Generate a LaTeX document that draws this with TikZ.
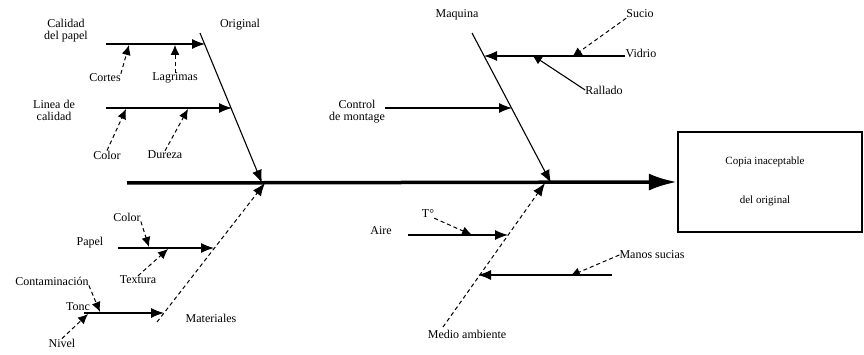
\documentclass[tikz,border=0pt]{standalone}
\usepackage{fontspec}
\setmainfont{Liberation Serif}
\usetikzlibrary{arrows.meta}
\begin{document}
\begin{tikzpicture}[x=1pt,y=-1pt,
  lbl/.style={font=\fontsize{12}{12}\selectfont, inner sep=0pt, align=center},
  efftext/.style={font=\fontsize{11}{11}\selectfont, inner sep=0pt},
  bone/.style={line width=1.1pt},
  dbone/.style={line width=1pt, dash pattern=on 4pt off 3pt},
  mainarr/.style={-{Latex[length=13pt,width=10pt]}},
  subarr/.style={-{Latex[length=10pt,width=9pt]}},
  spine/.style={line width=3.5pt},
  effect/.style={draw, line width=2.2pt, minimum width=184pt, minimum height=100pt, inner sep=0pt}]
\useasboundingbox (0,0) rectangle (864,355);

% effect box and spine
\node[effect] (box) at (770,182) {};
\node[efftext] (eff1) at (765,162) {Copia inaceptable};
\node[efftext] (eff2) at (765,201) {del original};
\coordinate (s0) at (127,183);
\draw[spine,-{Latex[length=28pt,width=17pt]}] (s0) -- (box.west);

\coordinate (j1t) at (262,183);
\coordinate (j1b) at (265,183);
\coordinate (j2t) at (551,183);
\coordinate (j2b) at (545,183);

% ---- Original (top left)
\node[lbl] (orig) at (240,25) {Original};
\coordinate (o0) at (200,33);
\draw[bone,mainarr] (o0) -- (j1t);

\node[lbl] (calidad) at (66,31) {Calidad\\del papel};
\coordinate (cp0) at (106,44);
\coordinate (cp1) at (205,44);
\draw[bone,mainarr] (cp0) -- (cp1);
\node[lbl] (cortes) at (105,78) {Cortes};
\coordinate (cortesT) at (129,45);
\draw[dbone,subarr] (cortes.north east) -- (cortesT);
\node[lbl] (lagr) at (175,78) {Lagrimas};
\coordinate (lagrT) at (175,45);
\draw[dbone,subarr] (lagr.north) -- (lagrT);

\node[lbl] (linea) at (54,110) {Linea de\\calidad};
\coordinate (lc0) at (106,108);
\coordinate (lc1) at (232,108);
\draw[bone,mainarr] (lc0) -- (lc1);
\node[lbl] (color1) at (107,155) {Color};
\coordinate (color1T) at (126,109);
\draw[dbone,subarr] (color1.north) -- (color1T);
\node[lbl] (dureza) at (165,155) {Dureza};
\coordinate (durezaT) at (188,109);
\draw[dbone,subarr] (dureza.north) -- (durezaT);

% ---- Materiales (bottom left)
\node[lbl] (mater) at (211,318) {Materiales};
\coordinate (m0) at (157,322);
\draw[dbone,mainarr] (m0) -- (j1b);

\node[lbl] (papel) at (90,243) {Papel};
\coordinate (pa0) at (118,248);
\coordinate (pa1) at (214,248);
\draw[bone,mainarr] (pa0) -- (pa1);
\node[lbl] (color2) at (127,217) {Color};
\coordinate (color2T) at (149,247);
\draw[dbone,subarr] (color2.south east) -- (color2T);
\node[lbl] (textura) at (138,280) {Textura};
\coordinate (texturaT) at (168,249);
\draw[dbone,subarr] (textura.north) -- (texturaT);

\node[lbl] (toner) at (78,307) {Tonc};
\coordinate (to0) at (84,313);
\coordinate (to1) at (164,313);
\draw[bone,mainarr] (to0) -- (to1);
\node[lbl] (contam) at (52,281) {Contaminación};
\coordinate (contamT) at (100,312);
\draw[dbone,subarr] (contam.south east) -- (contamT);
\node[lbl] (nivel) at (62,343) {Nivel};
\coordinate (nivelT) at (88,314);
\draw[dbone,subarr] (nivel.north) -- (nivelT);

% ---- Maquina (top right)
\node[lbl] (maq) at (457,15) {Maquina};
\coordinate (q0) at (472,33);
\draw[bone,mainarr] (q0) -- (j2t);

\coordinate (v1) at (625,56);
\coordinate (v0) at (484,56);
\draw[bone,mainarr] (v1) -- (v0);
\node[lbl] (vidrio) at (641,53) {Vidrio};
\node[lbl] (sucio) at (640,14) {Sucio};
\coordinate (sucioT) at (572,57);
\draw[dbone,subarr] (sucio.south west) -- (sucioT);
\node[lbl] (rallado) at (604,90) {Rallado};
\coordinate (ralladoT) at (532,55);
\draw[bone,subarr] (rallado.west) -- (ralladoT);

\node[lbl] (control) at (357,112) {Control\\de montage};
\coordinate (cm0) at (385,108);
\coordinate (cm1) at (512,108);
\draw[bone,mainarr] (cm0) -- (cm1);

% ---- Medio ambiente (bottom right)
\node[lbl] (medio) at (467,334) {Medio ambiente};
\coordinate (ma0) at (443,327);
\draw[dbone,mainarr] (ma0) -- (j2b);

\node[lbl] (aire) at (381,231) {Aire};
\coordinate (ai0) at (408,235);
\coordinate (ai1) at (508,235);
\draw[bone,mainarr] (ai0) -- (ai1);
\node[lbl] (temp) at (428,214) {T°};
\coordinate (tempT) at (472,235);
\draw[dbone,subarr] (temp.south east) -- (tempT);

\coordinate (ms1) at (612,275);
\coordinate (ms0) at (478,275);
\draw[bone,mainarr] (ms1) -- (ms0);
\node[lbl] (manos) at (652,255) {Manos sucias};
\coordinate (manosT) at (570,276);
\draw[dbone,subarr] (manos.west) -- (manosT);
\end{tikzpicture}
\end{document}
